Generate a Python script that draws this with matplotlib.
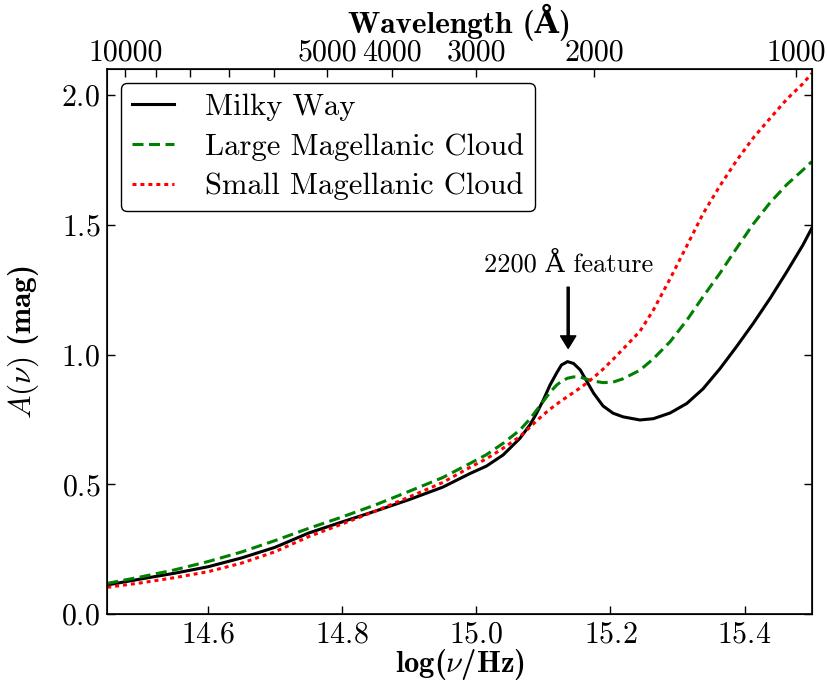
import numpy as np
import matplotlib
matplotlib.use("Agg")
import matplotlib.pyplot as plt

# log frequency grid
lognu = [14.45, 14.50, 14.55, 14.60, 14.65, 14.70, 14.75, 14.80, 14.85, 14.90,
         14.95, 14.991, 15.015, 15.040, 15.065, 15.080, 15.090, 15.100, 15.110, 15.120,
         15.127, 15.136, 15.145, 15.155, 15.165, 15.175, 15.189, 15.204, 15.219, 15.244,
         15.264, 15.289, 15.314, 15.338, 15.363, 15.388, 15.413, 15.438, 15.463, 15.487,
         15.500]

# extinction curves A(nu) in mag
milky_way = [0.112, 0.135, 0.157, 0.182, 0.216, 0.257, 0.312, 0.355, 0.397, 0.441,
             0.489, 0.542, 0.570, 0.613, 0.677, 0.729, 0.774, 0.825, 0.883, 0.930,
             0.960, 0.973, 0.966, 0.941, 0.896, 0.851, 0.802, 0.774, 0.760, 0.748,
             0.753, 0.775, 0.812, 0.868, 0.945, 1.031, 1.121, 1.217, 1.320, 1.423,
             1.487]
lmc = [0.118, 0.143, 0.170, 0.202, 0.239, 0.283, 0.330, 0.374, 0.421, 0.473,
       0.526, 0.581, 0.614, 0.658, 0.709, 0.752, 0.786, 0.820, 0.855, 0.883,
       0.897, 0.909, 0.914, 0.913, 0.905, 0.898, 0.892, 0.894, 0.907, 0.940,
       0.984, 1.050, 1.133, 1.223, 1.313, 1.410, 1.504, 1.586, 1.656, 1.712,
       1.744]
smc = [0.103, 0.120, 0.140, 0.163, 0.196, 0.240, 0.298, 0.347, 0.397, 0.451,
       0.507, 0.566, 0.598, 0.639, 0.684, 0.720, 0.745, 0.768, 0.790, 0.809,
       0.823, 0.838, 0.854, 0.872, 0.891, 0.912, 0.944, 0.982, 1.022, 1.090,
       1.172, 1.293, 1.420, 1.543, 1.650, 1.748, 1.836, 1.911, 1.985, 2.045,
       2.084]

# top axis wavelengths (Angstrom)
wl_ticks = [10000, 9000, 8000, 7000, 6000, 5000, 4000, 3000, 2000, 1000]
wl_labels = ["10000", "", "", "", "", "5000", "4000", "3000", "2000", "1000"]

plt.rcParams['font.family'] = ['cmr10', 'DejaVu Serif']
plt.rcParams['mathtext.fontset'] = 'cm'
plt.rcParams['axes.formatter.use_mathtext'] = True
plt.rcParams['axes.unicode_minus'] = False

bold = ['cmb10', 'DejaVu Serif']

fig = plt.figure(figsize=(8.27, 6.82), dpi=100)
ax = fig.add_axes([0.1297, 0.0997, 0.8518, 0.7987])

ax.plot(lognu, milky_way, color='k', lw=2.2, label='Milky Way')
ax.plot(lognu, lmc, color='g', lw=2.2, ls='--', dashes=(3.6, 1.8), label='Large Magellanic Cloud')
ax.plot(lognu, smc, color='r', lw=2.2, ls=':', dashes=(1.3, 1.3), label='Small Magellanic Cloud')

ax.set_xlim(14.45, 15.5)
ax.set_ylim(0, 2.1)
ax.set_xticks([14.6, 14.8, 15.0, 15.2, 15.4])
ax.set_yticks([0.0, 0.5, 1.0, 1.5, 2.0])
ax.tick_params(axis='both', direction='in', length=6, width=1, labelsize=21.5)
ax.tick_params(axis='x', pad=5, top=False)
ax.tick_params(axis='y', pad=5, right=True)
for s in ax.spines.values():
    s.set_linewidth(1.2)

ax.set_xlabel(r'log($\nu$/Hz)', fontsize=22, fontfamily=bold, fontweight='bold')
ax.xaxis.set_label_coords(0.5, -0.061)
ax.set_ylabel(r'$A(\nu)$ (mag)', fontsize=22.5, fontfamily=bold, fontweight='bold')
ax.yaxis.set_label_coords(-0.094, 0.5)

# wavelength axis on top
ax2 = ax.twiny()
ax2.set_xlim(ax.get_xlim())
ax2.set_xticks(np.log10(2.998e18 / np.array(wl_ticks, dtype=float)))
ax2.set_xticklabels(wl_labels)
ax2.tick_params(axis='x', direction='in', length=6, width=1, labelsize=21.5, pad=2)
ax2.set_xlabel('Wavelength (Å)', fontsize=22.5, fontfamily=bold, fontweight='bold')
ax2.xaxis.set_label_coords(0.5, 1.067)

leg = ax.legend(loc='upper left', fontsize=22, fancybox=True, framealpha=1,
                edgecolor='k', handlelength=1.4, handletextpad=1.0,
                borderaxespad=0.45, labelspacing=0.38, borderpad=0.35)
leg.get_frame().set_linewidth(1.0)

# 2200 A bump annotation
ax.text(15.137, 1.30, '2200 Å feature', fontsize=19, ha='center', va='bottom')
ax.annotate('', xy=(15.137, 1.024), xytext=(15.137, 1.26),
            arrowprops=dict(facecolor='k', edgecolor='k', width=1.5,
                            headwidth=11, headlength=9, shrink=0))

fig.savefig('out.png', dpi=100)
